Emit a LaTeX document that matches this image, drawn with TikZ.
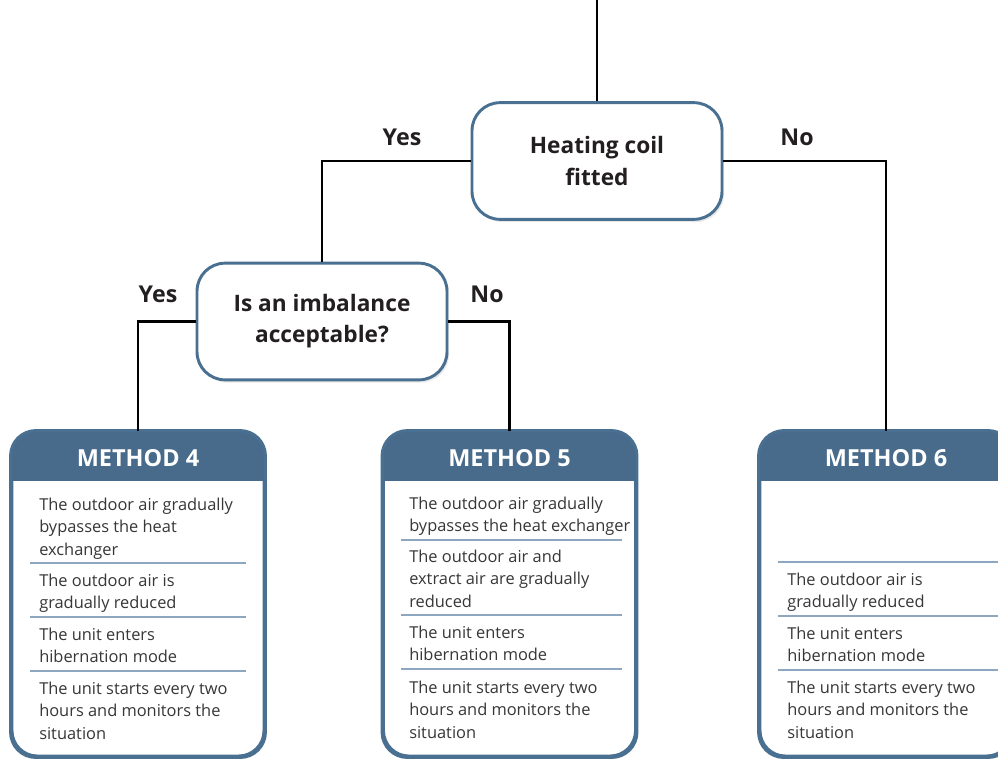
\documentclass[tikz,border=0pt]{standalone}
\usepackage{fontspec}
\setmainfont{Open Sans}
\usepackage{tikz}
\usetikzlibrary{positioning, shadows}
\definecolor{boxblue}{RGB}{74,112,145}
\definecolor{headblue}{RGB}{72,107,140}
\definecolor{seplight}{RGB}{142,166,192}
\definecolor{itemgray}{RGB}{55,55,55}
\definecolor{titleblack}{RGB}{35,31,32}
\tikzset{
  question/.style={rectangle, rounded corners=21pt, draw=boxblue, line width=2.2pt,
    fill=white, minimum width=187.5pt, minimum height=87.5pt, align=center,
    font=\fontsize{17}{23.3}\selectfont\bfseries, text=titleblack,
    drop shadow={opacity=0.18, shadow xshift=1.5pt, shadow yshift=-2pt}},
  methodbox/.style={rectangle, rounded corners=19pt, draw=boxblue, line width=2.2pt,
    fill=white, minimum width=189pt, minimum height=243pt,
    drop shadow={opacity=0.18, shadow xshift=1.5pt, shadow yshift=-2pt}},
  methodhead/.style={font=\fontsize{17.6}{20}\selectfont\bfseries, text=white},
  answer/.style={font=\fontsize{17.4}{20}\selectfont\bfseries, text=titleblack},
  item/.style={anchor=north west, align=left, inner sep=0pt, text=itemgray,
    font=\fontsize{12.3}{16.9}\selectfont},
  link/.style={line width=1.6pt, color=black},
  sepline/.style={line width=1.6pt, color=seplight},
}

\begin{document}
\begin{tikzpicture}[x=0.75pt, y=-0.75pt]
  \clip (0,0) rectangle (998,758);
  % decisions
  \node[question] (heat) at (597,161) {Heating coil\\fitted};
  \node[question] (imb) at (322,321.5) {Is an imbalance\\acceptable?};
  \coordinate (top) at (597,0);
  % answer labels
  \node[answer] (heatyes) at (402,137) {Yes};
  \node[answer] (heatno) at (797,137) {No};
  \node[answer] (imbyes) at (158,294) {Yes};
  \node[answer] (imbno) at (487,294) {No};
  % method boxes
  \node[methodbox] (m4) at (138,594) {};
  \node[methodbox] (m5) at (509.5,594) {};
  \node[methodbox] (m6) at (886,594) {};
  \begin{scope}
    \clip[rounded corners=19pt] (m4.north west) rectangle (m4.south east);
    \fill[headblue] (m4.north west) rectangle ([yshift=-37.5pt]m4.north east);
  \end{scope}
  \begin{scope}
    \clip[rounded corners=19pt] (m5.north west) rectangle (m5.south east);
    \fill[headblue] (m5.north west) rectangle ([yshift=-37.5pt]m5.north east);
  \end{scope}
  \begin{scope}
    \clip[rounded corners=19pt] (m6.north west) rectangle (m6.south east);
    \fill[headblue] (m6.north west) rectangle ([yshift=-37.5pt]m6.north east);
  \end{scope}
  \draw[boxblue, line width=2.2pt, rounded corners=19pt] (m4.north west) rectangle (m4.south east);
  \draw[boxblue, line width=2.2pt, rounded corners=19pt] (m5.north west) rectangle (m5.south east);
  \draw[boxblue, line width=2.2pt, rounded corners=19pt] (m6.north west) rectangle (m6.south east);
  \node[methodhead] (m4h) at ([yshift=-21pt]m4.north) {METHOD 4};
  \node[methodhead] (m5h) at ([yshift=-21pt]m5.north) {METHOD 5};
  \node[methodhead] (m6h) at ([yshift=-21pt]m6.north) {METHOD 6};
  % method 4 steps
  \node[item] (m4a) at (39,497.5) {The outdoor air gradually\\bypasses the heat\\exchanger};
  \draw[sepline] (30,563) -- (246,563);
  \node[item] (m4b) at (39,573.5) {The outdoor air is\\gradually reduced};
  \draw[sepline] (30,617) -- (246,617);
  \node[item] (m4c) at (39,627.5) {The unit enters\\hibernation mode};
  \draw[sepline] (30,671) -- (246,671);
  \node[item] (m4d) at (39,681.5) {The unit starts every two\\hours and monitors the\\situation};
  % method 5 steps
  \node[item] (m5a) at (409,496.5) {The outdoor air gradually\\bypasses the heat exchanger};
  \draw[sepline] (401,540) -- (622,540);
  \node[item] (m5b) at (409,549.5) {The outdoor air and\\extract air are gradually\\reduced};
  \draw[sepline] (401,615) -- (622,615);
  \node[item] (m5c) at (409,625.5) {The unit enters\\hibernation mode};
  \draw[sepline] (401,669) -- (622,669);
  \node[item] (m5d) at (409,680.5) {The unit starts every two\\hours and monitors the\\situation};
  % method 6 steps
  \draw[sepline] (778,562) -- (1000,562);
  \node[item] (m6b) at (787,572.5) {The outdoor air is\\gradually reduced};
  \draw[sepline] (778,616) -- (1000,616);
  \node[item] (m6c) at (787,626.5) {The unit enters\\hibernation mode};
  \draw[sepline] (778,670) -- (1000,670);
  \node[item] (m6d) at (787,680.5) {The unit starts every two\\hours and monitors the\\situation};
  % connectors
  \draw[link] (top) -- (heat.north);
  \draw[link] (heat.west) -| (imb.north);
  \draw[link] (heat.east) -| (m6.north);
  \draw[link] (imb.west) -| (m4.north);
  \draw[link] (imb.east) -| (m5.north);
\end{tikzpicture}
\end{document}
